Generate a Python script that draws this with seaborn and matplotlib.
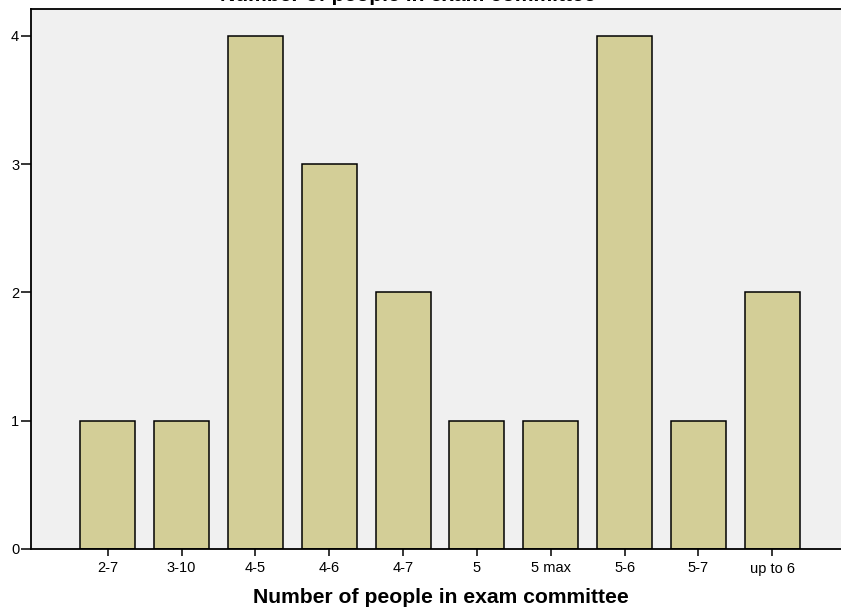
import matplotlib
matplotlib.use("Agg")
import matplotlib.pyplot as plt
import seaborn as sns
import pandas as pd

categories = ["2-7", "3-10", "4-5", "4-6", "4-7", "5", "5 max", "5-6", "5-7", "up to 6"]
counts = [1, 1, 4, 3, 2, 1, 1, 4, 1, 2]
yticks = [0, 1, 2, 3, 4]

sns.set_style("white")
plt.rcParams['font.family'] = ['Liberation Sans', 'DejaVu Sans']
plt.rcParams['text.color'] = 'black'
plt.rcParams['axes.labelcolor'] = 'black'

df = pd.DataFrame({"group": categories, "count": counts})

fig = plt.figure(figsize=(8.41, 6.10), dpi=100)
ax = fig.add_axes([31/841, 61/610, 1 - 31/841, (549 - 9)/610])
ax.set_facecolor("#F0F0F0")

sns.barplot(data=df, x="group", y="count", order=categories, color="#D3CE97",
            saturation=1, width=0.745, edgecolor="black", linewidth=1.1, ax=ax)
for p in ax.patches:
    p.set_facecolor("#D3CE97")

ax.set_xlim(-1.04, 9.93)
ax.set_ylim(0, 4.21)
ax.set_yticks(yticks)
ax.set_yticklabels([str(v) for v in yticks])

for s in ["left", "bottom", "top"]:
    ax.spines[s].set_visible(True)
    ax.spines[s].set_color("black")
    ax.spines[s].set_linewidth(1.3)
ax.spines["right"].set_visible(False)

ax.tick_params(axis="y", direction="out", length=7, width=1.1, pad=1.5,
               labelsize=10.5, left=True, colors="black")
ax.tick_params(axis="x", direction="out", length=5, width=1.1, pad=4,
               labelsize=10.5, bottom=True, colors="black")

ax.set_ylabel("")
ax.set_xlabel("Number of people in exam committee", fontsize=15.2, fontweight="bold",
              color="black")
ax.xaxis.set_label_coords(0.5 + 5/810, -58/540)
ax.xaxis.label.set_va("bottom")

fig.text(408/841, 1 - 0.7/610, "Number of people in exam committee", ha="center",
         va="baseline", fontsize=15.2, fontweight="bold", color="black")

fig.savefig("out.png", dpi=100)
